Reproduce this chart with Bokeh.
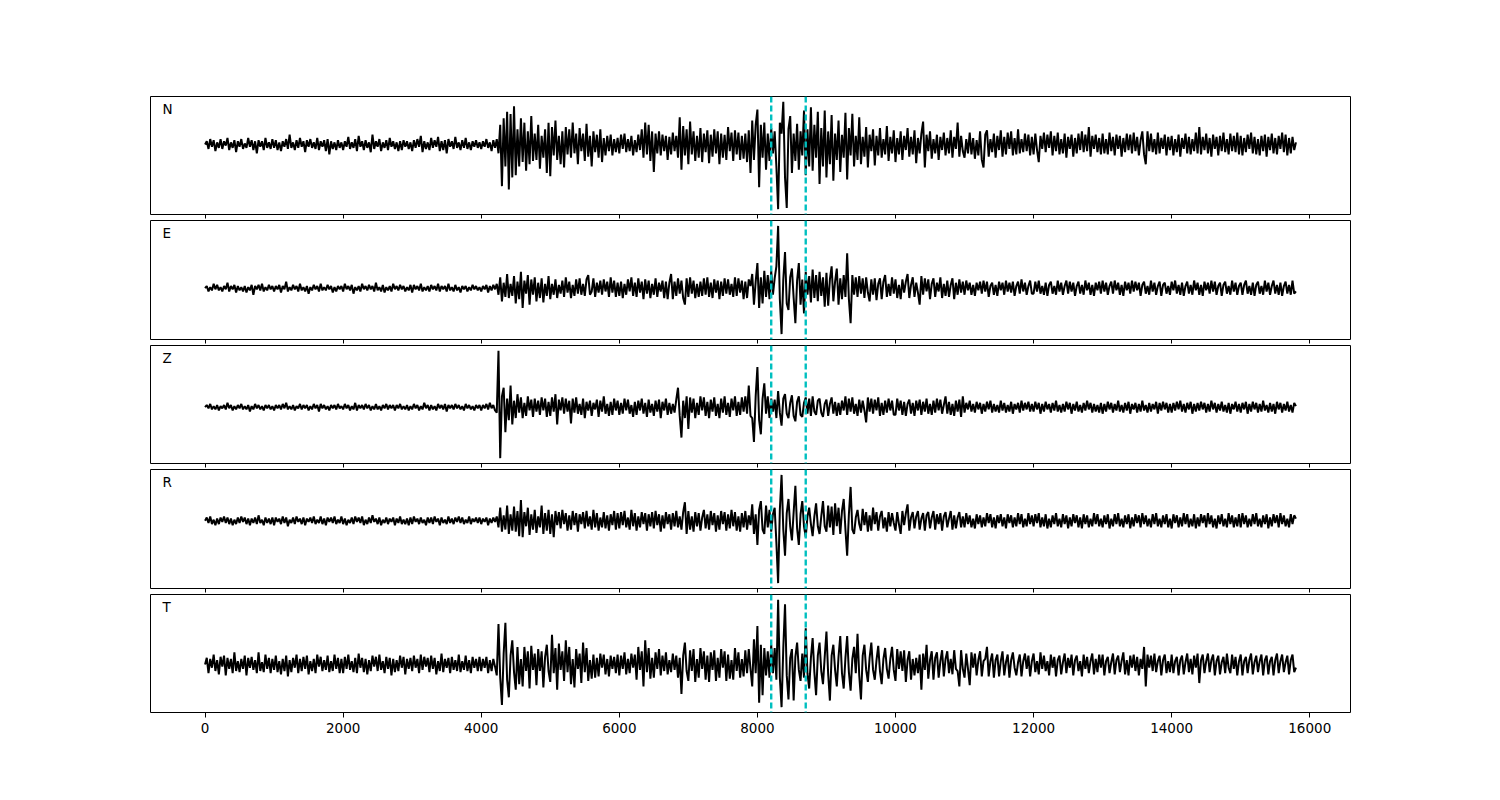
import numpy as np
from bokeh.plotting import figure
from bokeh.layouts import column
from bokeh.models import Range1d, FixedTicker, Span, Label
from bokeh.embed import file_html
from bokeh.resources import INLINE

# ---------------- data (amplitudes, one sample every 25 units) ----------------
sample_interval = 25
component_names = ["N", "E", "Z", "R", "T"]
pick_times = [8200, 8700]
tick_values = [0, 2000, 4000, 6000, 8000, 10000, 12000, 14000, 16000]

trace_N = [
    0,3,-4,5,-2,4,-6,2,-3,5, -4,3,-1,6,-5,2,-3,4,-7,3, -2,5,-4,1,-3,6,-2,4,-5,3, -8,4,-2,3,-5,6,-3,2,-4,5,
    -3,4,-5,2,-6,3,-2,5,-4,9, -3,2,-5,4,-3,6,-2,3,-7,4, -2,5,-3,2,-4,6,-5,3,-2,4, -6,5,-9,3,-4,2,-5,4,-3,2,
    -5,3,-2,7,-4,2,-3,5,-6,8, -2,3,-5,4,-3,2,-7,9,-4,3, -2,5,-6,2,-3,4,-5,6,-2,3, -4,2,-6,3,-5,4,-2,3,-4,2,
    -6,4,-3,5,-2,8,-7,3,-4,2, -5,6,-3,4,-2,7,-6,3,-5,4, -8,5,-2,3,-4,7,-3,2,-5,4, -3,6,-4,2,-5,3,-2,4,-3,2,
    -4,3,-2,5,-3,2,-6,4,-3,5, -8,18,-38,24,-20,30,-41,28,-30,35, -28,14,-20,24,-16,20,-24,12,-18,26, -15,10,-14,18,-22,8,-12,14,-26,20,
    -29,16,-10,22,-14,8,-18,12,-21,16, -9,14,-12,20,-8,10,-18,15,-6,10, -15,19,-11,8,-20,12,-7,9,-12,14, -16,6,-10,8,-6,9,-10,5,-7,6,
    -8,9,-4,10,-7,5,-6,8,-10,4, -7,9,-5,14,-12,20,-9,18,-15,12, -25,10,-8,12,-10,9,-6,8,-14,7, -9,11,-6,8,-12,25,-23,17,-10,14,
    -18,21,-9,12,-15,8,-12,15,-16,10, -7,13,-17,9,-11,14,-8,12,-18,10, -12,9,-14,16,-6,11,-15,13,-9,11, -14,8,-13,10,-16,13,-26,22,-14,18,
    32,-39,18,-12,20,-23,10,-15,15,-8, 12,-20,-59,20,10,39,-30,-58,14,26, -26,10,-15,19,-23,12,-10,31,-28,14, -20,34,-24,18,-12,30,-36,15,-20,31,
    -30,12,-18,27,-33,10,-14,22,-25,9, -12,29,-32,15,-10,28,-20,8,-14,25, -18,7,-11,16,-21,9,-6,14,-19,8, -10,15,-12,5,-9,17,-15,7,-8,13,
    -16,6,-9,12,-14,8,-5,15,-11,7, -9,13,-17,6,-8,10,21,-21,9,-6, 12,-13,5,-8,9,-14,7,-5,11,-10, 6,-8,13,-12,7,-4,20,-11,8,-6,
    -12,5,-8,11,-9,6,-13,4,-10,12, -14,-21,9,13,-11,5,-7,10,-12,8, -5,13,-11,7,-9,11,-4,12,-10,6, -9,14,-8,5,-7,10,-6,9,-10,7,
    -9,10,-5,-16,8,-4,11,-7,9,-3, 12,-10,8,-6,11,-9,5,-8,10,-12, 7,-4,9,-11,6,-8,10,-5,12,-7, 9,-6,16,-11,8,-4,9,-7,6,-9,
    10,-8,5,-9,11,-6,7,-10,9,-4, 8,-11,6,-7,10,-5,9,-8,11,-6, 7,-10,4,12,-9,-18,12,-6,10,-7, 5,-9,11,-8,6,-4,9,-10,7,-5,
    8,-10,5,-7,9,-11,6,-4,10,-8, 7,-9,5,-6,11,-8,16,-9,7,-5, 10,-8,6,-11,9,-4,7,-10,8,-6, 11,-7,5,-9,10,-6,8,-7,11,-9,
    8,-10,6,-7,9,-4,11,-8,7,-9, 5,-10,8,-6,9,-11,7,-5,10,-8, 6,-9,8,-4,11,-7,9,-10,6,-8, 7,-5,2,
]

trace_E = [
    0,2,-3,1,-2,4,-1,3,-2,1, -3,2,-1,5,-3,2,-1,3,-4,2, -2,1,-3,2,-4,1,-2,3,-6,2, -1,3,-2,4,-3,1,-2,3,-1,2,
    -3,2,-1,3,-4,2,-1,6,-3,1, -2,3,-1,2,-3,4,-2,1,-3,2, -5,1,-2,3,-1,2,-3,4,-2,1, -2,3,-1,2,-4,1,-3,2,-1,2,
    -3,4,-1,2,-2,3,-5,1,-2,2, -3,4,-1,2,-2,3,-1,2,-3,5, -2,1,-3,3,-4,1,-2,2,-3,4, -1,2,-2,3,-1,2,-3,1,-2,3,
    -4,3,-1,2,-2,4,-3,1,-2,2, -3,3,-1,2,-2,4,-3,2,-1,2, -3,4,-2,1,-3,3,-2,1,-4,2, -1,2,-3,1,-2,3,-1,2,-2,1,
    -3,2,-1,3,-4,2,-2,3,-1,4, -6,10,-12,5,-8,13,-9,4,-7,11, -14,6,-10,15,-18,7,-5,12,-15,8, -6,10,-12,5,-9,9,-13,4,-7,11,
    -10,4,-6,8,-9,3,-5,7,-8,10, -4,6,-9,3,-7,8,-5,9,-6,4, -7,8,12,-6,-3,9,-8,5,-4,7, -6,8,-3,6,-8,10,-4,7,-8,5,
    -7,6,-9,4,-6,8,-3,10,-7,5, -8,9,-4,6,-10,8,-5,7,-9,4, -6,9,-8,5,-3,7,-9,6,-10,5, 13,-10,6,-7,9,-5,7,-9,-15,9,
    -8,10,-5,7,-9,4,-8,6,-7,9, -6,10,-8,5,-9,8,-4,7,-10,6, -7,9,-5,8,-6,4,-8,10,-7,9, -4,7,-10,6,-9,8,2,13,-15,6,
    23,-18,10,-14,16,-8,12,-10,16,-6, 9,20,57,-10,-42,8,33,-14,-20,10, 18,-9,-32,7,23,-15,8,-23,15,-6, 11,-13,17,-9,12,-12,15,-7,10,-17,
    14,-16,8,20,-12,6,18,-15,9,-10, 12,-8,32,-10,-32,12,-6,10,-8,11, -5,9,-9,10,-4,-12,8,-6,9,-11, 4,9,-10,6,12,-8,4,-7,10,-5,
    8,-9,3,-10,8,-4,6,13,-9,3, 10,-8,5,-4,-15,11,-6,9,-3,8, -10,4,9,-8,5,-3,10,-9,4,-7, 7,-8,3,9,-10,5,-6,8,-4,6,
    -6,7,-2,5,-6,3,-7,5,-2,6, -5,7,-3,6,-8,2,5,-6,3,-7, 6,-2,5,-6,7,-3,5,-4,6,-7, 2,6,-5,8,-3,5,-6,2,7,-5,
    -5,6,-3,7,-5,2,-6,5,-7,3, 6,-5,2,-6,7,-3,5,-6,2,7, -5,6,-3,5,-7,2,6,-5,3,-6, 7,-2,5,-6,3,-7,5,-2,6,-5,
    7,-3,5,-6,2,6,-5,7,-2,5, -6,3,-7,6,-2,5,-5,7,-3,6, -2,5,-7,3,6,-5,2,-6,7,-3, 5,-6,2,6,-7,3,5,-5,2,-6,
    6,-2,7,-5,3,-6,5,-7,2,6, -5,3,-6,7,-2,5,-6,3,-7,6, -2,5,-5,7,-3,6,-6,2,5,-7, 3,6,-5,2,-6,7,-3,5,-6,2,
    5,-6,3,7,-5,2,-6,5,-7,3, 6,-5,2,-6,7,-3,5,-6,2,7, -5,3,-6,5,-7,2,6,-5,3,-6, 7,-5,-3,
]

trace_Z = [
    0,2,-1,3,-2,1,-2,2,-3,1, -1,2,-2,4,-1,2,-3,1,-2,2, -1,3,-2,1,-2,2,-4,1,-2,3, -1,2,-2,1,-3,2,-1,2,-2,1,
    -3,2,-1,2,-2,3,-1,4,-2,1, -2,2,-3,1,-1,3,-2,2,-1,2, -3,1,-2,3,-1,2,-4,3,-1,2, -2,1,-3,2,-1,2,-2,3,-1,1,
    -2,3,-1,2,-3,1,-2,4,-3,2, -1,2,-2,3,-1,2,-3,1,-2,3, -2,1,-3,2,-1,3,-2,2,-1,2, -3,2,-1,3,-2,1,-2,2,-3,1,
    -2,3,-1,2,-3,1,-2,4,-1,2, -3,2,-2,1,-3,3,-1,2,-2,3, -4,2,-1,2,-2,3,-1,2,-2,1, -3,3,-1,2,-2,1,-3,2,-1,2,
    -3,2,-1,3,-2,4,-1,2,-3,-5, 52,-47,10,18,-23,8,-12,20,-16,6, -10,12,-5,9,-10,4,-8,10,-3,7, -9,8,-4,6,-7,9,-3,8,-9,5,
    -8,9,-4,12,-16,7,-3,9,-6,8, -4,6,-15,8,-5,9,-6,3,-7,8, -10,5,-3,6,-8,4,-2,7,-9,6, -4,10,-6,3,-8,5,-7,8,-3,6,
    -7,4,-6,8,-3,7,-6,2,-9,5, -7,6,-3,8,-6,4,-9,7,-5,3, -8,6,-4,7,-10,5,-3,8,-7,4, -6,3,-5,7,18,-8,-28,6,-10,10,
    -20,9,-5,8,-10,4,-7,10,-3,9, -8,5,-10,7,-4,9,-8,3,-10,8, -5,10,-7,4,-9,8,-3,10,-8,5, -7,9,-4,10,-6,20,-8,-10,-32,10,
    37,-12,-25,8,22,-6,10,-10,8,-4, 7,-10,15,-5,-17,8,12,-6,-10,4, 11,-8,-13,5,10,-7,-9,4,9,-6, 8,-8,10,-4,-7,6,8,-5,-9,3,
    7,-8,3,9,-6,5,-8,4,-7,6, -3,10,-7,8,-4,9,-6,3,-8,7, -5,6,-3,-14,9,-4,8,-6,7,-3, 9,-8,4,-7,6,-5,8,-3,6,-7,
    -7,8,-3,6,-7,5,-8,3,7,-6, 4,-8,6,-3,7,-7,5,-4,8,-6, 3,-7,6,-5,8,-3,7,-6,2,10, -6,5,-7,3,-8,6,-4,7,-9,10,
    -5,4,-2,6,-4,3,-5,5,-2,4, -6,3,-4,5,-2,6,-5,3,-4,2, -5,6,-3,4,-5,2,-4,5,-6,3, -2,4,-5,6,-3,4,-2,5,-4,3,
    -4,5,-2,4,-6,3,-4,5,-2,3, -5,4,-3,6,-4,2,-5,3,-4,5, -2,4,-6,3,-3,5,-4,2,-5,4, -3,6,-2,4,-5,3,-4,2,-5,4,
    -6,3,-4,5,-2,4,-5,3,-3,6, -4,2,-5,4,-3,5,-6,3,-2,4, -5,3,-4,6,-3,2,-5,4,-4,3, -2,5,-6,4,-3,5,-2,4,-5,3,
    -5,4,-3,5,-2,6,-4,3,-5,4, -2,5,-6,3,-4,4,-3,5,-2,4, -5,3,-4,6,-2,4,-5,3,-3,5, -4,2,-5,4,-6,3,-2,5,-4,3,
    -5,4,-2,5,-6,3,-4,5,-2,4, -5,3,-4,6,-3,2,-5,4,-4,3, -6,5,-2,4,-5,3,-3,5,-4,2, -5,4,1,
]

trace_R = [
    0,3,-2,4,-3,1,-4,2,-3,3, -1,4,-2,3,-3,2,-4,1,-3,3, -2,4,-1,3,-3,2,-4,2,-2,3, -3,5,-2,1,-4,3,-2,2,-3,3,
    -4,3,-1,2,-3,4,-2,3,-5,1, -2,3,-3,4,-1,2,-3,3,-4,2, -1,3,-2,4,-3,1,-2,4,-3,2, -4,3,-1,3,-2,4,-3,1,-2,4,
    -3,2,-4,1,-2,3,-3,4,-1,3, -2,4,-4,1,-3,3,-2,5,-1,2, -3,3,-4,1,-2,3,-3,2,-1,3, -4,2,-2,4,-3,1,-3,2,-4,3,
    -3,4,-1,2,-3,3,-2,1,-4,3, -2,3,-3,4,-1,2,-4,3,-2,1, -3,4,-2,2,-3,3,-1,4,-2,3, -3,1,-2,4,-3,2,-1,3,-2,3,
    -3,2,-1,3,-4,2,-2,3,-1,4, -6,12,-10,5,-8,14,-12,6,-9,13, -10,9,-14,19,-15,8,-5,12,-13,6, -8,10,-11,4,-6,14,-12,7,-9,10,
    -12,6,-15,9,-4,8,-7,10,-3,7, -9,5,-8,9,-4,7,-10,6,-3,8, -7,9,-5,4,-8,10,-6,7,-9,3, -6,8,-7,5,-9,6,-4,9,-8,7,
    -7,8,-4,9,-6,3,-8,10,-5,7, -9,4,-6,8,-3,7,-9,6,-5,8, -7,9,-4,6,-10,5,-7,8,-3,6, -8,7,-5,9,-6,4,-8,8,17,-12,
    9,-8,4,-10,8,-5,7,-9,3,10, -7,6,-8,9,-4,7,-10,5,-8,9, -3,8,-9,6,-7,10,-5,8,-9,4, -10,7,-6,9,-8,5,-4,15,-12,6,
    -22,10,18,-8,-12,14,-6,10,-10,6, 12,-20,-57,10,42,-8,-32,7,20,-5, -18,8,32,-7,-22,6,18,-5,-15,4, 12,-3,-14,4,16,-5,-12,4,18,-5,
    -10,14,-6,13,-13,16,-5,12,-12,9, 20,-8,-32,6,31,-8,-12,3,10,-3, -9,11,-4,8,-10,5,-9,12,-3,8, -9,4,9,-7,3,-10,8,-5,7,-2,
    -9,8,-3,-12,9,-4,7,15,-9,3, 8,-7,4,9,-8,2,7,-9,5,8, -7,3,9,-8,6,-3,7,-9,4,8, -6,2,9,-8,5,-7,3,8,-6,4,
    -6,7,-3,5,-6,2,-7,6,-3,5, -6,3,-5,7,-2,6,-6,3,-7,5, -2,6,-5,3,-7,6,-2,5,-6,3, -5,7,-3,6,-6,2,-5,7,-3,5,
    -5,6,-2,7,-6,3,-5,6,-7,2, -6,5,-3,7,-5,2,-6,6,-3,5, -7,3,-5,6,-2,5,-6,3,-7,6, -3,5,-6,2,-5,7,-3,6,-5,2,
    -6,5,-3,6,-7,2,-5,6,-3,7, -5,2,-6,5,-3,6,-7,3,-5,6, -2,5,-6,7,-3,5,-5,2,-6,6, -3,7,-5,2,-6,5,-3,6,-6,2,
    -7,6,-2,5,-6,3,-5,7,-3,6, -6,2,-5,6,-7,3,-5,6,-2,5, -6,7,-3,5,-6,2,-7,5,-3,6, -5,2,-6,7,-3,5,-6,3,-5,6,
    -6,7,-3,5,-6,2,-5,6,-3,7, -5,2,-6,5,-3,6,-7,3,-5,6, -2,5,-6,7,-3,5,-5,2,-6,6, -3,5,2,
]

trace_T = [
    0,6,-8,5,-3,9,-6,4,-9,7, -2,8,-10,6,-4,5,-8,11,-6,3, -7,5,-4,8,-10,6,-3,7,-5,4, -8,11,-6,2,-7,9,-4,6,-8,5,
    -5,8,-7,3,-9,5,-6,8,-11,4, -7,6,-3,9,-8,5,-6,7,-4,8, -9,3,-6,5,-8,9,-2,7,-6,4, -5,8,-7,3,-6,9,-4,6,-8,5,
    -8,7,-4,9,-5,3,-7,6,-8,10, -3,6,-7,5,-9,4,-6,8,-2,7, -6,9,-5,3,-8,7,-4,6,-10,5, -7,4,-6,8,-3,7,-9,5,-4,6,
    -6,8,-3,5,-8,9,-5,7,-2,6, -7,8,-4,6,-9,3,-6,10,-7,5, -3,6,-8,7,-5,4,-6,9,-7,3, -5,8,-6,4,-8,7,-3,5,-6,7,
    -6,5,-3,7,-8,4,-6,5,-2,-10, 37,-12,-37,10,38,-14,-30,8,22,-7, -23,16,-18,5,-20,16,-6,12,-22,17, -5,10,-19,14,-6,12,-21,7,18,-6,
    -16,27,-8,15,-23,19,-5,12,-15,22, -7,16,-18,5,-21,14,-4,10,-17,20, -7,15,-15,4,-13,9,-12,6,-11,10, -3,9,-9,5,-11,8,-4,7,-8,9,
    -10,8,-4,11,-9,5,-8,10,-3,9, -14,16,-5,12,-20,22,-7,15,-13,6, -12,11,-4,14,-10,8,-6,11,-9,4, -7,10,-5,8,-12,6,-27,8,20,-6,
    -15,13,-6,14,-16,5,-12,15,-4,12, -14,8,-16,11,-5,13,-15,6,-12,14, -3,12,-15,9,-13,4,-14,15,-6,11, -12,5,-11,13,-8,14,-4,-20,23,-8,
    35,-35,18,-28,15,-10,12,-12,18,-8, 15,-14,59,-12,-39,15,55,-10,-32,6, 14,-33,7,20,-5,-15,10,-12,33,-8, -22,6,24,-7,-28,8,20,-6,-18,7,
    30,-9,-33,8,18,-5,-20,7,26,-8, -22,6,26,-7,-24,5,16,-8,28,-10, -32,8,18,-5,-16,6,20,-5,-14,4, 17,-6,-18,5,15,-4,-13,5,16,-5,
    -15,14,-4,12,-6,13,-16,4,12,-14, 5,-10,6,-8,9,-23,10,-5,18,-13, 4,12,-14,6,11,-12,3,13,-11,5, 12,-8,5,-9,13,-4,-6,-20,13,-4,
    -12,10,-4,-19,11,-3,10,-10,4,12, -11,3,5,16,-11,3,10,-12,4,9, -11,3,12,-10,2,9,-12,4,11,-3, -10,2,9,-11,3,10,-4,8,-11,3,
    10,-7,3,-9,11,-4,8,-6,3,-10, 9,-3,7,-11,4,8,-9,2,10,-8, 6,-3,9,-10,4,8,-6,3,-11,9, -4,7,-8,3,10,-9,5,-7,9,-3,
    9,-10,3,7,-8,2,10,-9,4,8, -7,3,11,-9,4,-10,8,-3,9,-6, 7,-10,5,-4,16,-20,9,-3,8,-6, 10,-7,3,8,-10,4,9,-8,3,-7,
    9,-8,3,7,-10,4,8,-9,2,10, -7,5,-9,8,-3,10,-17,4,9,-8, 3,10,-7,4,9,-10,3,8,-9,2, 7,-8,10,-3,-8,9,-4,7,-10,3,
    9,-10,3,7,-8,4,10,-9,2,8, -7,3,9,-10,4,8,-9,3,7,-10, 4,10,-8,3,9,-7,2,8,-9,4, 9,-7,-3,
]

traces = [trace_N, trace_E, trace_Z, trace_R, trace_T]

# ---------------- layout ----------------
# (border top, frame height, border bottom) for each stacked panel
panel_geometry = [(96, 118, 5), (1, 119, 5), (1, 118, 5), (1, 119, 5), (1, 118, 70)]

t_max = (max(len(tr) for tr in traces) - 1) * sample_interval
x_margin = 0.05 * t_max
x_range = Range1d(-x_margin, t_max + x_margin)

figs = []
for idx, (name, vals) in enumerate(zip(component_names, traces)):
    y = np.asarray(vals, dtype=float)
    t = np.arange(len(y)) * sample_interval
    lo, hi = y.min(), y.max()
    pad = 0.05 * (hi - lo)
    y_range = Range1d(lo - pad, hi + pad)
    bt, fh, bb = panel_geometry[idx]
    last = idx == len(traces) - 1

    p = figure(frame_width=1200, frame_height=fh, x_range=x_range, y_range=y_range,
               output_backend="svg", toolbar_location=None,
               min_border_left=150, min_border_right=100,
               min_border_top=bt, min_border_bottom=bb)
    p.background_fill_color = "white"
    p.border_fill_color = "white"
    p.outline_line_color = "black"
    p.outline_line_width = 1
    p.xgrid.visible = False
    p.ygrid.visible = False
    p.yaxis.visible = False

    ax = p.xaxis[0]
    ax.ticker = FixedTicker(ticks=tick_values)
    ax.axis_line_color = None
    ax.major_tick_in = 0
    ax.major_tick_line_color = "black"
    ax.major_tick_line_width = 1
    ax.minor_tick_line_color = None
    if last:
        ax.major_tick_out = 5
        ax.major_label_text_font = "DejaVu Sans"
        ax.major_label_text_font_size = "13.5px"
        ax.major_label_text_color = "black"
        ax.major_label_standoff = 5
    else:
        ax.major_tick_out = 4
        ax.major_label_overrides = {v: "" for v in tick_values}
        ax.major_label_text_font_size = "1px"
        ax.major_label_standoff = 0

    p.line(t, y, line_color="black", line_width=2.0)

    for pt in pick_times:
        p.add_layout(Span(location=pt, dimension="height", line_color="#00bfbf",
                          line_width=2.4, line_dash="6 3"))

    p.add_layout(Label(x=x_range.start, y=y_range.end, x_offset=12, y_offset=-4,
                       text=name, text_font="DejaVu Sans", text_font_size="13.5px",
                       text_color="black", text_align="left", text_baseline="top"))
    figs.append(p)

layout = column(*figs, spacing=0)
open("out.html", "w").write(file_html(layout, INLINE))
